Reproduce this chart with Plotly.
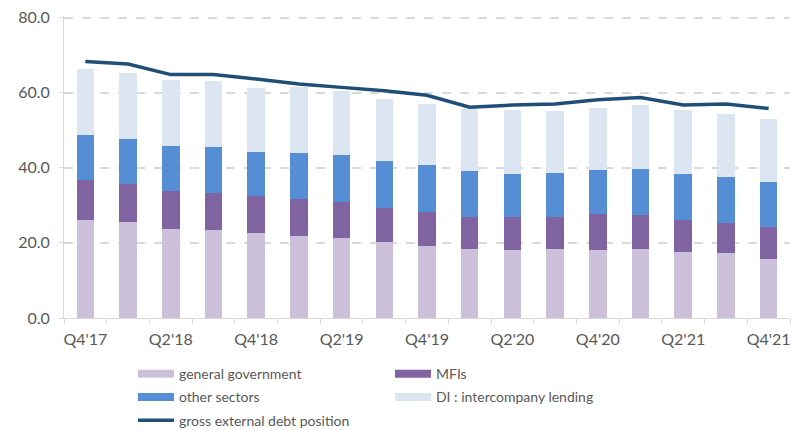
import plotly.graph_objects as go

quarters = ["Q4'17", "Q1'18", "Q2'18", "Q3'18", "Q4'18", "Q1'19", "Q2'19", "Q3'19",
            "Q4'19", "Q1'20", "Q2'20", "Q3'20", "Q4'20", "Q1'21", "Q2'21", "Q3'21", "Q4'21"]
general_government = [26.0, 25.5, 23.8, 23.3, 22.6, 21.9, 21.3, 20.2, 19.3, 18.5, 18.2, 18.5, 18.2, 18.5, 17.7, 17.2, 15.8]
mfis = [10.7, 10.2, 10.1, 10.1, 10.0, 9.9, 9.6, 9.1, 8.9, 8.5, 8.8, 8.5, 9.5, 8.8, 8.3, 8.0, 8.3]
other_sectors = [11.9, 11.9, 12.0, 12.0, 11.6, 12.2, 12.4, 12.5, 12.5, 12.2, 11.4, 11.7, 11.8, 12.5, 12.4, 12.4, 12.1]
di_intercompany = [17.7, 17.6, 17.4, 17.6, 17.1, 17.5, 17.1, 16.5, 16.2, 16.5, 16.9, 16.4, 16.4, 16.9, 16.9, 16.8, 16.9]
gross_external_debt = [68.3, 67.6, 64.8, 64.8, 63.6, 62.3, 61.4, 60.5, 59.3, 56.1, 56.7, 57.0, 58.1, 58.7, 56.7, 57.0, 55.8]
tick_labels = quarters[::2]

colors = {
    "general government": "#CCC0DA",
    "MFIs": "#8064A2",
    "other sectors": "#558ED5",
    "DI : intercompany lending": "#DCE6F2",
}
line_color = "#1F4E79"
font_family = "Lato, Noto Sans, sans-serif"
text_color = "#595959"
grid_color = "#D9D9D9"

x = list(range(len(quarters)))
fig = go.Figure()

bar_series = [
    ("general government", general_government),
    ("MFIs", mfis),
    ("other sectors", other_sectors),
    ("DI : intercompany lending", di_intercompany),
]
for name, vals in bar_series:
    fig.add_trace(go.Bar(x=x, y=vals, name=name, marker_color=colors[name],
                         marker_line_width=0, showlegend=False))

fig.add_trace(go.Scatter(x=x, y=gross_external_debt, mode="lines", name="gross external debt position",
                         line=dict(color=line_color, width=3.5), showlegend=False))

# legend entries (wide swatches), two columns
legend_col = {
    "general government": "legend",
    "other sectors": "legend",
    "MFIs": "legend2",
    "DI : intercompany lending": "legend2",
}
order = ["general government", "other sectors", "MFIs", "DI : intercompany lending"]
for i, name in enumerate(order):
    fig.add_trace(go.Scatter(x=[None], y=[None], mode="lines", name=name,
                             line=dict(color=colors[name], width=8),
                             legend=legend_col[name], legendgroup=name, legendrank=i))
fig.add_trace(go.Scatter(x=[None], y=[None], mode="lines", name="gross external debt position",
                         line=dict(color=line_color, width=3.5), legend="legend",
                         legendgroup="gross", legendrank=10))

legend_common = dict(orientation="v", yanchor="top", xanchor="left", itemwidth=36,
                     font=dict(size=14, color=text_color, family=font_family),
                     traceorder="grouped", tracegroupgap=2, bgcolor="rgba(0,0,0,0)")

# the page shows the figure offset by the default 8px body margin
fig.update_layout(
    width=791, height=422,
    margin=dict(l=56, r=9, t=8, b=112, autoexpand=False),
    barmode="stack",
    bargap=0.59,
    plot_bgcolor="white", paper_bgcolor="white",
    font=dict(family=font_family, size=14, color=text_color),
    legend=dict(x=0.095, y=-0.133, **legend_common),
    legend2=dict(x=0.449, y=-0.133, **legend_common),
)
fig.update_xaxes(
    range=[-0.5, len(quarters) - 0.5], automargin=False,
    tickmode="array", tickvals=x[::2], ticktext=tick_labels,
    ticks="", showgrid=False, showline=True, linecolor=grid_color, linewidth=1,
    minor=dict(tickmode="array", tickvals=[i - 0.5 for i in range(len(quarters) + 1)],
               ticks="outside", ticklen=5, tickcolor=grid_color, showgrid=False),
    tickfont=dict(size=16, color=text_color), ticklabelstandoff=7, zeroline=False,
    ticklabeloverflow="allow",
)
fig.update_yaxes(
    range=[0, 80.4], tickmode="array", tickvals=[0, 20, 40, 60, 80], tickformat=".1f",
    automargin=False,
    showgrid=True, gridcolor=grid_color, griddash="dash", gridwidth=1.5,
    showline=True, linecolor=grid_color, linewidth=1,
    ticks="outside", ticklen=4, tickcolor=grid_color,
    tickfont=dict(size=16, color=text_color), ticklabelstandoff=6, zeroline=False,
    ticklabeloverflow="allow",
)

fig.write_html("out.html")
